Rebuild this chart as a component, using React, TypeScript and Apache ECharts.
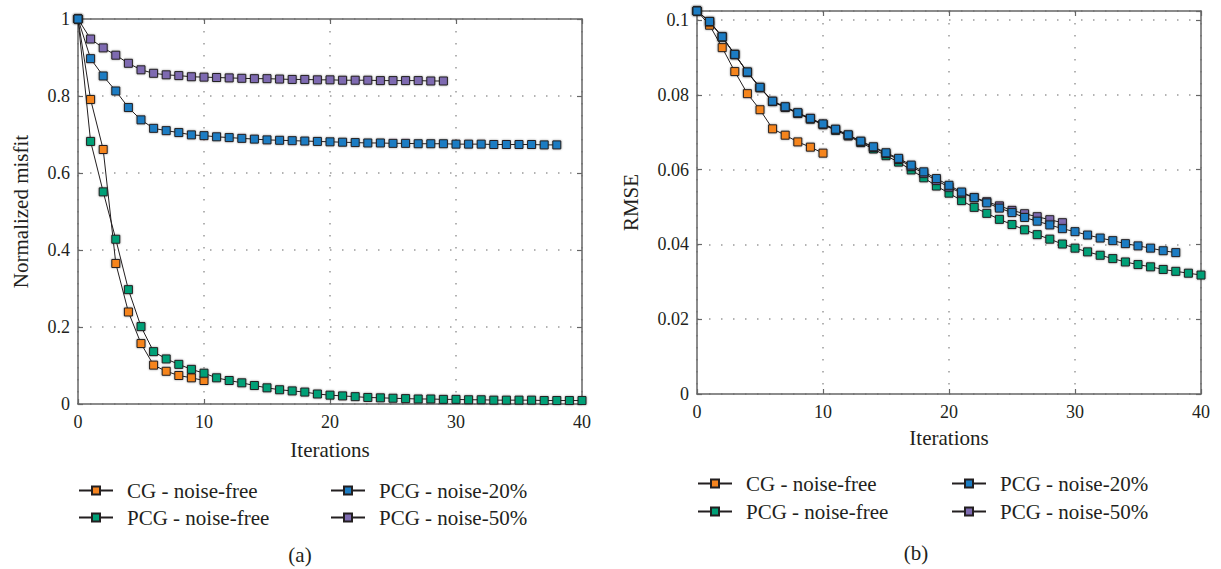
import React, { useEffect, useRef } from "react";
import * as echarts from "echarts";

const seriesNames = ["CG - noise-free", "PCG - noise-free", "PCG - noise-20%", "PCG - noise-50%"];
const seriesColors = ["#F5841F", "#00A077", "#1B7CC3", "#7E6BB1"];

const xTicks = [0, 10, 20, 30, 40];

const leftCG = [1, 0.791, 0.661, 0.365, 0.239, 0.157, 0.101, 0.085, 0.074, 0.068, 0.061];
const leftPCGFree = [1, 0.682, 0.551, 0.428, 0.297, 0.201, 0.136, 0.117, 0.103, 0.09, 0.08, 0.068, 0.061, 0.055, 0.048, 0.042, 0.037, 0.034, 0.031, 0.026, 0.023, 0.021, 0.019, 0.017, 0.016, 0.015, 0.014, 0.013, 0.013, 0.012, 0.012, 0.011, 0.011, 0.01, 0.01, 0.01, 0.01, 0.009, 0.009, 0.009, 0.009];
const leftPCG20 = [1, 0.897, 0.852, 0.813, 0.77, 0.738, 0.716, 0.71, 0.705, 0.699, 0.697, 0.694, 0.692, 0.69, 0.688, 0.686, 0.685, 0.684, 0.683, 0.682, 0.681, 0.68, 0.679, 0.678, 0.678, 0.677, 0.677, 0.676, 0.676, 0.676, 0.675, 0.675, 0.675, 0.674, 0.674, 0.674, 0.674, 0.673, 0.673];
const leftPCG50 = [1, 0.948, 0.925, 0.906, 0.885, 0.868, 0.859, 0.855, 0.853, 0.85, 0.849, 0.848, 0.847, 0.846, 0.845, 0.845, 0.844, 0.843, 0.843, 0.842, 0.842, 0.841, 0.841, 0.841, 0.84, 0.84, 0.84, 0.84, 0.839, 0.839];

const rightCG = [0.1024, 0.0986, 0.0926, 0.0862, 0.0803, 0.076, 0.0709, 0.0692, 0.0674, 0.066, 0.0644];
const rightPCGFree = [0.1024, 0.0995, 0.0954, 0.0907, 0.086, 0.0819, 0.0782, 0.0766, 0.075, 0.0735, 0.072, 0.0705, 0.069, 0.0672, 0.0655, 0.0637, 0.062, 0.0599, 0.0578, 0.0556, 0.0537, 0.0517, 0.0499, 0.0483, 0.0467, 0.0453, 0.0439, 0.0426, 0.0414, 0.0401, 0.039, 0.038, 0.0371, 0.0362, 0.0353, 0.0346, 0.034, 0.0333, 0.0328, 0.0323, 0.0318];
const rightPCG20 = [0.1024, 0.0996, 0.0955, 0.0908, 0.0861, 0.082, 0.0783, 0.0768, 0.0752, 0.0737, 0.0722, 0.0708, 0.0693, 0.0676, 0.0661, 0.0645, 0.063, 0.0612, 0.0594, 0.0576, 0.0558, 0.054, 0.0525, 0.0511, 0.0497, 0.0485, 0.0472, 0.0462, 0.0452, 0.0442, 0.0434, 0.0425, 0.0417, 0.041, 0.0402, 0.0396, 0.039, 0.0383, 0.0378];
const rightPCG50 = [0.1024, 0.0996, 0.0955, 0.0908, 0.086, 0.0819, 0.0782, 0.0767, 0.0751, 0.0736, 0.0721, 0.0707, 0.0692, 0.0675, 0.0659, 0.0643, 0.0627, 0.0608, 0.059, 0.0571, 0.0553, 0.0537, 0.0525, 0.0514, 0.0503, 0.0491, 0.0482, 0.0474, 0.0466, 0.0458];

const leftYTicks = [0, 0.2, 0.4, 0.6, 0.8, 1];
const rightYTicks = [0, 0.02, 0.04, 0.06, 0.08, 0.1];

const FONT = "'Liberation Serif', 'Times New Roman', serif";
const AXIS_COLOR = "#666";
const TEXT_COLOR = "#231f20";

export default function App() {
  const ref = useRef<HTMLDivElement>(null);

  useEffect(() => {
    document.body.style.margin = "0";
    const chart = echarts.init(ref.current!, null, { renderer: "svg" });

    const gridLine = { show: true, lineStyle: { color: "#9a9a9a", width: 1.5, type: [1.5, 10.5] } };
    const axisLine = { show: true, onZero: false, lineStyle: { color: AXIS_COLOR, width: 1.5 } };
    const tick = { show: true, inside: true, length: 5, lineStyle: { color: AXIS_COLOR, width: 1.2 } };
    const labelStyle = { color: TEXT_COLOR, fontFamily: FONT, fontSize: 18 };

    const mkX = (grid: number, pos: "bottom" | "top", main: boolean) => ({
      type: "value",
      gridIndex: grid,
      position: pos,
      min: xTicks[0],
      max: xTicks[xTicks.length - 1],
      interval: 10,
      axisLine,
      axisTick: tick,
      splitLine: main ? gridLine : { show: false },
      axisLabel: main ? { ...labelStyle, margin: 9 } : { show: false },
      name: main ? "Iterations" : "",
      nameLocation: "middle",
      nameGap: grid === 0 ? 35 : 33,
      nameTextStyle: { color: TEXT_COLOR, fontFamily: FONT, fontSize: 21 },
    });

    const mkY = (grid: number, pos: "left" | "right", main: boolean) => {
      const ticks = grid === 0 ? leftYTicks : rightYTicks;
      return {
        type: "value",
        gridIndex: grid,
        position: pos,
        min: ticks[0],
        max: grid === 0 ? ticks[ticks.length - 1] : 0.1024,
        interval: grid === 0 ? 0.2 : 0.02,
        axisLine,
        axisTick: tick,
        splitLine: main ? gridLine : { show: false },
        axisLabel: main
          ? {
              ...labelStyle,
              margin: 8,
              formatter: (v: number) => {
                const hit = ticks.find((t) => Math.abs(t - v) < 1e-9);
                return hit === undefined ? "" : String(hit);
              },
            }
          : { show: false },
        name: main ? (grid === 0 ? "Normalized misfit" : "RMSE") : "",
        nameLocation: "middle",
        nameGap: grid === 0 ? 47 : 56,
        nameTextStyle: { color: TEXT_COLOR, fontFamily: FONT, fontSize: 21 },
      };
    };

    const mkSeries = (name: string, values: number[], grid: number, colorIdx: number) => ({
      type: "line",
      name,
      xAxisIndex: grid * 2,
      yAxisIndex: grid * 2,
      data: values.map((v, i) => [i, v]),
      symbol: "rect",
      symbolSize: 8,
      showSymbol: true,
      lineStyle: { color: "#231f20", width: 1 },
      itemStyle: {
        color: seriesColors[colorIdx],
        borderColor: "#231f20",
        borderWidth: 1,
        shadowBlur: 2,
        shadowColor: "rgba(0,0,0,0.4)",
      },
      emphasis: { disabled: true },
    });

    const legendBase = {
      orient: "vertical",
      itemWidth: 34,
      itemHeight: 10,
      padding: 0,
      selectedMode: false,
      textStyle: { color: TEXT_COLOR, fontFamily: FONT, fontSize: 21, lineHeight: 21, padding: [0, 0, 0, 9] },
    };

    chart.setOption({
      animation: false,
      backgroundColor: "#fff",
      grid: [
        { left: 78, top: 19, width: 504, height: 385 },
        { left: 697, top: 11, width: 504, height: 383 },
      ],
      xAxis: [mkX(0, "bottom", true), mkX(0, "top", false), mkX(1, "bottom", true), mkX(1, "top", false)],
      yAxis: [mkY(0, "left", true), mkY(0, "right", false), mkY(1, "left", true), mkY(1, "right", false)],
      legend: [
        { ...legendBase, left: 78, top: 480, itemGap: 6, data: [seriesNames[0], seriesNames[1]] },
        { ...legendBase, left: 330, top: 480, itemGap: 6, data: [seriesNames[2], seriesNames[3]] },
        { ...legendBase, left: 697, top: 473, itemGap: 7, data: [seriesNames[0], seriesNames[1]] },
        { ...legendBase, left: 951, top: 473, itemGap: 7, data: [seriesNames[2], seriesNames[3]] },
      ],
      graphic: [
        { type: "text", x: 300, y: 555, style: { text: "(a)", align: "center", verticalAlign: "middle", font: `21px ${FONT}`, fill: TEXT_COLOR } },
        { type: "text", x: 916, y: 553, style: { text: "(b)", align: "center", verticalAlign: "middle", font: `21px ${FONT}`, fill: TEXT_COLOR } },
      ],
      series: [
        mkSeries(seriesNames[0], leftCG, 0, 0),
        mkSeries(seriesNames[1], leftPCGFree, 0, 1),
        mkSeries(seriesNames[3], leftPCG50, 0, 3),
        mkSeries(seriesNames[2], leftPCG20, 0, 2),
        mkSeries(seriesNames[0], rightCG, 1, 0),
        mkSeries(seriesNames[1], rightPCGFree, 1, 1),
        mkSeries(seriesNames[3], rightPCG50, 1, 3),
        mkSeries(seriesNames[2], rightPCG20, 1, 2),
      ],
    });

    return () => chart.dispose();
  }, []);

  return <div ref={ref} style={{ width: 1221, height: 569 }} />;
}
